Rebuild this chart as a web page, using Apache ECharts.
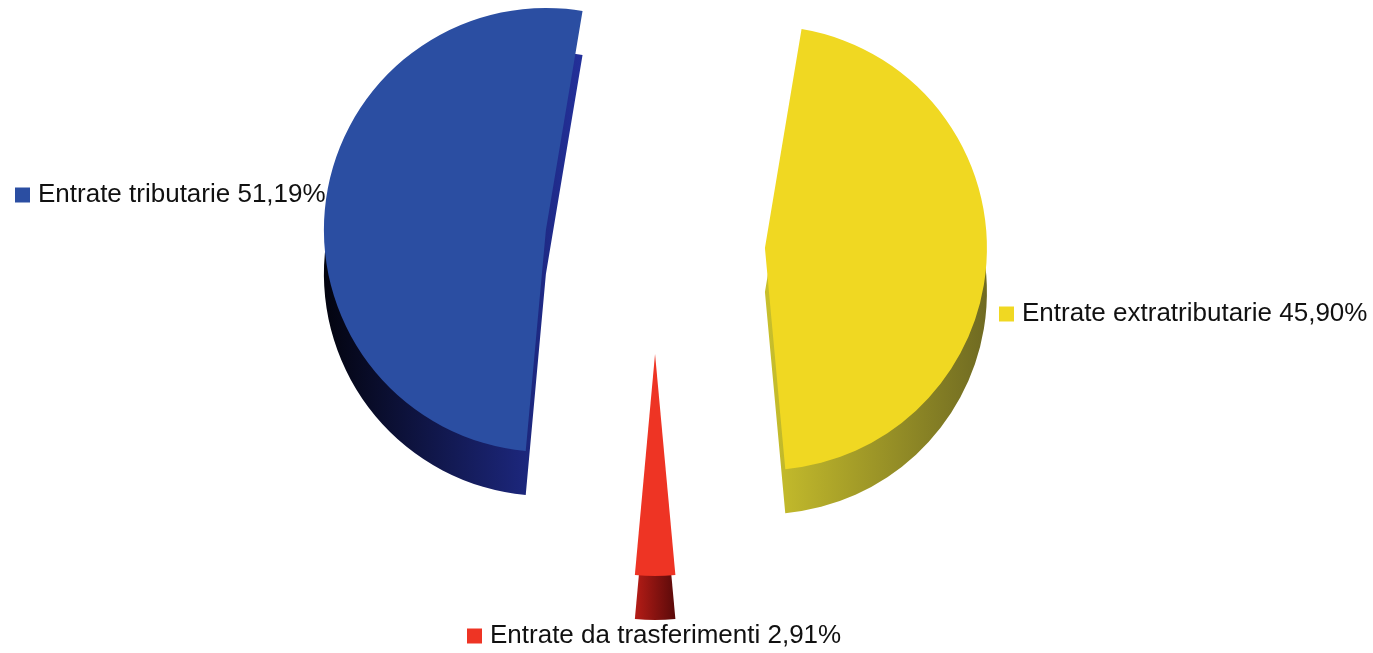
<!DOCTYPE html>
<html>
<head>
    <meta charset="utf-8">
    <title>Entrate</title>
    <script src="https://cdn.jsdelivr.net/npm/echarts@6/dist/echarts.min.js"></script>
    <style>
        html, body {
            margin: 0;
            padding: 0;
            background: #fff;
        }

        #container {
            width: 1373px;
            height: 653px;
        }
    </style>
</head>
<body>
<div id="container"></div>
<script>
    // dati del grafico (ordine in senso orario dall'alto)
    var categories = ['Entrate extratributarie', 'Entrate da trasferimenti', 'Entrate tributarie'];
    var shares = [45.90, 2.91, 51.19];

    var faceColors = ['#f0d822', '#ee3424', '#2b4ea2'];
    var sideColors = [
        ['#c9c02c', '#6f6a22'],
        ['#b51c16', '#5a0a0a'],
        ['#03040f', '#23309a']
    ];
    // posizione delle etichette (left, top)
    var labelPos = [
        [999, 301],
        [467, 623],
        [15, 182]
    ];

    var dom = document.getElementById('container');
    var myChart = echarts.init(dom);

    var cx = 655, cy = 244, depth = 44, radius = 222, explode = 110;

    var faceData = [], sideData = [];
    for (var i = 0; i < shares.length; i++) {
        faceData.push({
            name: categories[i],
            value: shares[i],
            selected: true,
            itemStyle: {color: faceColors[i]}
        });
        sideData.push({
            name: categories[i] + ' ',
            value: shares[i],
            selected: true,
            itemStyle: {
                color: {
                    type: 'linear', x: 0, y: 0, x2: 1, y2: 0,
                    colorStops: [
                        {offset: 0, color: sideColors[i][0]},
                        {offset: 1, color: sideColors[i][1]}
                    ]
                }
            }
        });
    }

    // una legenda per ogni etichetta
    var legends = categories.map(function (name, i) {
        return {
            data: [name],
            left: labelPos[i][0],
            top: labelPos[i][1],
            selectedMode: false,
            icon: 'rect',
            itemWidth: 15,
            itemHeight: 15,
            itemGap: 0,
            padding: 0,
            textStyle: {
                fontFamily: 'Liberation Sans, Arial, sans-serif',
                fontSize: 26,
                color: '#111',
                padding: [0, 0, 0, 3]
            },
            formatter: function (n) {
                return n + ' ' + shares[i].toFixed(2).replace('.', ',') + '%';
            }
        };
    });

    var option = {
        animation: false,
        legend: legends,
        series: [
            {
                // spessore (lato 3D)
                type: 'pie',
                silent: true,
                z: 1,
                radius: radius,
                center: [cx, cy + depth],
                startAngle: 80.5,
                selectedMode: 'multiple',
                selectedOffset: explode,
                label: {show: false},
                labelLine: {show: false},
                emphasis: {disabled: true},
                data: sideData
            },
            {
                type: 'pie',
                z: 2,
                radius: radius,
                center: [cx, cy],
                startAngle: 80.5,
                selectedMode: 'multiple',
                selectedOffset: explode,
                emphasis: {disabled: true},
                label: {show: false},
                labelLine: {show: false},
                data: faceData
            }
        ]
    };

    myChart.setOption(option);
</script>
</body>
</html>
